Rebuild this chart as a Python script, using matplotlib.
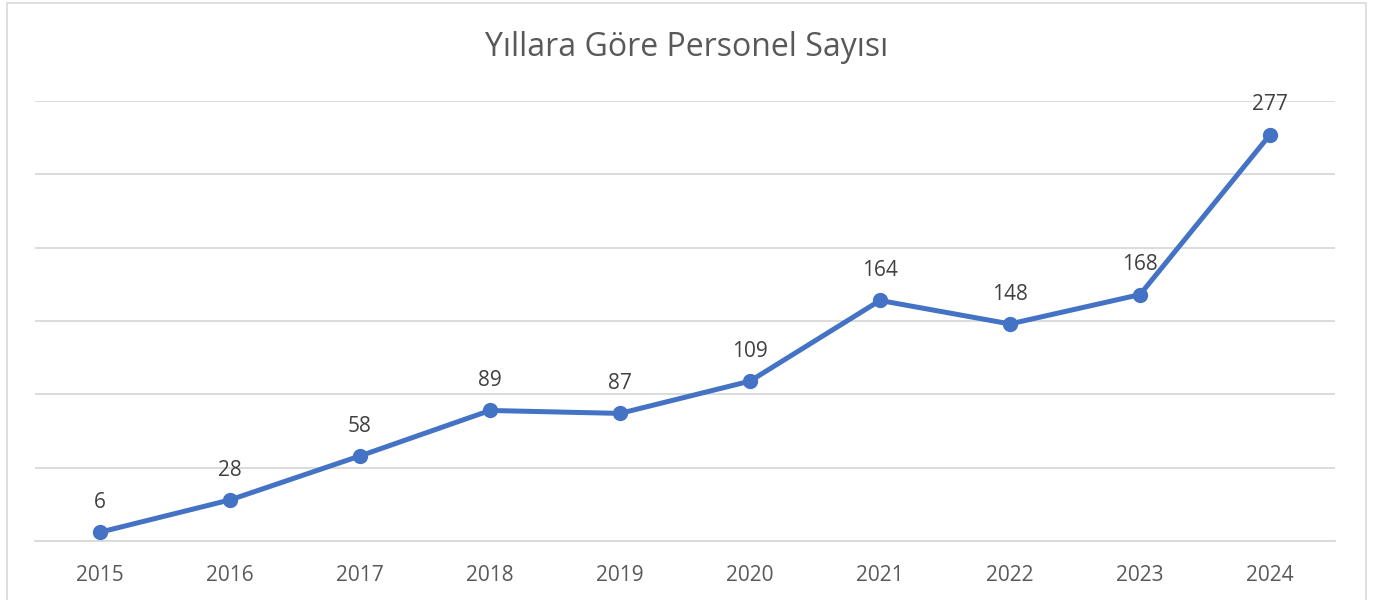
import matplotlib.pyplot as plt
from matplotlib.patches import Rectangle

# veriler
years = ['2015', '2016', '2017', '2018', '2019', '2020', '2021', '2022', '2023', '2024']
staff = [6, 28, 58, 89, 87, 109, 164, 148, 168, 277]

plt.rcParams['font.family'] = ['Open Sans', 'DejaVu Sans']
TEXT = '#595959'
LABEL = '#404040'
GRID = '#D9D9D9'
LINE = '#4472C4'

fig = plt.figure(figsize=(13.73, 6.0), dpi=100)
ax = fig.add_axes([35 / 1373, 1 - 541 / 600, 1300 / 1373, 440 / 600])

x = range(len(years))
ax.plot(x, staff, '-o', color=LINE, linewidth=3.6, markersize=10, solid_capstyle='round', zorder=3)

for xi, v in zip(x, staff):
    ax.annotate(str(v), (xi, v), xytext=(0, 21.5), textcoords='offset points',
                ha='center', va='center', fontsize=15, color=LABEL)

ax.set_xlim(-0.5, len(years) - 0.5)
ax.set_ylim(0, 300)
ax.set_yticks(range(0, 301, 50))
ax.set_yticklabels([])
ax.set_xticks(list(x))
ax.set_xticklabels(years, fontsize=15, color=TEXT)
ax.tick_params(axis='both', length=0)
ax.tick_params(axis='x', pad=17)
ax.grid(axis='y', color=GRID, linewidth=1.3)
for s in ['top', 'right', 'left']:
    ax.spines[s].set_visible(False)
ax.spines['bottom'].set_color(GRID)
ax.spines['bottom'].set_linewidth(1.3)
ax.set_axisbelow(True)

fig.text(0.5, 1 - 48 / 600, 'Yıllara Göre Personel Sayısı', ha='center', va='center',
         fontsize=23, color=TEXT)

# dış çerçeve
fig.patches.append(Rectangle((6.5 / 1373, -0.05), (1366 - 6.5) / 1373, 1.05 - 2.5 / 600,
                             transform=fig.transFigure, fill=False, edgecolor=GRID, linewidth=1.2))

fig.savefig('out.png', dpi=100)
plt.close(fig)
